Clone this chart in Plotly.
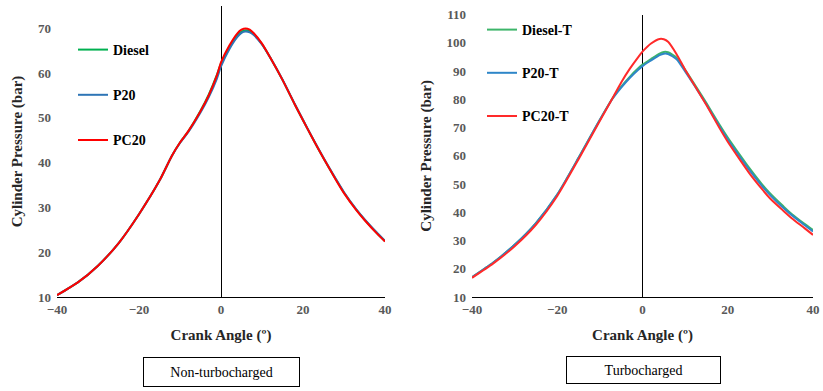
import plotly.graph_objects as go

# ---------------- data ----------------
angle_nt = [-40, -35, -30, -25, -20, -15, -12, -10, -8, -5, -3, -1, 0, 2, 4, 5, 6, 7, 8,
            10, 12, 15, 18, 20, 22, 25, 28, 30, 33, 35, 38, 40]
diesel_nt = [10.4, 13.2, 17.0, 22.0, 28.5, 36.0, 41.5, 44.5, 47.0, 51.6, 55.2, 59.6, 62.2, 65.8, 68.5,
             69.3, 69.6, 69.4, 68.7, 66.5, 63.5, 58.5, 53.0, 49.5, 46.0, 41.0, 36.3, 33.3, 29.5, 27.3, 24.3, 22.5]
p20_nt = [10.4, 13.2, 17.0, 22.0, 28.5, 36.0, 41.5, 44.4, 46.8, 51.2, 54.6, 58.8, 61.5, 65.3, 68.1,
          69.0, 69.3, 69.1, 68.5, 66.4, 63.5, 58.6, 53.1, 49.6, 46.1, 41.1, 36.4, 33.4, 29.6, 27.4, 24.4, 22.5]
pc20_nt = [10.4, 13.2, 17.0, 22.0, 28.5, 36.0, 41.5, 44.5, 47.0, 51.5, 55.0, 59.5, 62.4, 66.1, 68.9,
           69.7, 70.0, 69.7, 68.9, 66.6, 63.5, 58.5, 53.0, 49.5, 46.0, 41.0, 36.2, 33.2, 29.4, 27.2, 24.2, 22.4]

angle_t = [-40, -35, -30, -25, -20, -15, -10, -7, -5, -3, -1, 0, 2, 4, 5, 6, 8,
           10, 13, 15, 18, 20, 23, 25, 28, 30, 33, 35, 38, 40]
diesel_t = [17.0, 22.2, 28.5, 36.2, 46.3, 59.3, 72.8, 80.5, 84.5, 88.0, 91.0, 92.3, 94.3, 96.2, 96.8,
            96.7, 94.8, 90.5, 83.5, 78.7, 71.2, 66.5, 60.0, 55.8, 50.0, 46.6, 42.2, 39.4, 35.9, 33.7]
p20_t = [17.0, 22.2, 28.5, 36.2, 46.3, 59.3, 72.8, 80.3, 84.2, 87.6, 90.5, 91.8, 93.8, 95.7, 96.2,
         96.1, 94.2, 89.9, 83.0, 78.2, 70.6, 65.8, 59.3, 55.1, 49.4, 46.0, 41.6, 39.0, 35.5, 33.2]
pc20_t = [16.8, 21.9, 28.0, 35.6, 45.8, 58.8, 72.4, 80.5, 86.0, 90.8, 95.0, 96.9, 99.8, 101.4, 101.3,
          100.4, 96.0, 90.5, 83.0, 78.0, 70.0, 65.0, 58.3, 54.0, 48.3, 44.8, 40.6, 37.9, 34.4, 32.0]

names_nt = ["Diesel", "P20", "PC20"]
names_t = ["Diesel-T", "P20-T", "PC20-T"]
xticks = [-40, -20, 0, 20, 40]
yticks_nt = [10, 20, 30, 40, 50, 60, 70]
yticks_t = [10, 20, 30, 40, 50, 60, 70, 80, 90, 100, 110]
panel_labels = ["Non-turbocharged", "Turbocharged"]

# ---------------- style ----------------
SERIF = "Liberation Serif"
cols_nt = ["#00B050", "#2E75B6", "#FF0000"]
cols_t = ["#3DB56A", "#2E86C8", "#FF2A2A"]

fig = go.Figure()

for i, (nm, ys) in enumerate(zip(names_nt, [diesel_nt, p20_nt, pc20_nt])):
    fig.add_trace(go.Scatter(x=angle_nt, y=ys, name=nm, mode="lines",
                             line=dict(color=cols_nt[i], width=2, shape="spline", smoothing=0.6),
                             xaxis="x", yaxis="y", legend="legend", legendgroup="a" + str(i)))
for i, (nm, ys) in enumerate(zip(names_t, [diesel_t, p20_t, pc20_t])):
    fig.add_trace(go.Scatter(x=angle_t, y=ys, name=nm, mode="lines",
                             line=dict(color=cols_t[i], width=2, shape="spline", smoothing=0.6),
                             xaxis="x2", yaxis="y2", legend="legend2", legendgroup="b" + str(i)))

W, H = 823, 391
def px(x):
    return x / W
def py(y):
    return 1 - y / H

tickfont = dict(family=SERIF, size=13, color="#595959", weight="bold")
titlefont = dict(family=SERIF, size=15, color="#262626", weight="bold")

common_x = dict(range=[-40, 40], tickvals=xticks, showgrid=False, zeroline=True,
                zerolinecolor="#000000", zerolinewidth=1.3, showline=True,
                linecolor="#000000", linewidth=1.3, ticks="", tickfont=tickfont,
                title=dict(text="Crank Angle (º)", font=titlefont, standoff=13),
                automargin=False)
common_y = dict(showgrid=False, zeroline=False, showline=False, ticks="",
                tickfont=tickfont, automargin=False, ticklabelstandoff=5,
                title=dict(text="Cylinder Pressure (bar)", font=titlefont, standoff=11))

fig.update_layout(
    width=W, height=H,
    margin=dict(l=0, r=0, t=0, b=0),
    paper_bgcolor="white", plot_bgcolor="white",
    xaxis=dict(domain=[px(57), px(385)], anchor="y", **common_x),
    yaxis=dict(domain=[py(297), py(6)], anchor="x", range=[10, 75], tickvals=yticks_nt, **common_y),
    xaxis2=dict(domain=[px(472), px(813)], anchor="y2", **common_x),
    yaxis2=dict(domain=[py(297), py(14.7)], anchor="x2", range=[10, 110], tickvals=yticks_t, **common_y),
    legend=dict(x=px(73), y=py(34), xanchor="left", yanchor="top",
                font=dict(family=SERIF, size=14, color="#000000", weight="bold"),
                bgcolor="rgba(0,0,0,0)", tracegroupgap=24, itemwidth=30),
    legend2=dict(x=px(482), y=py(14), xanchor="left", yanchor="top",
                 font=dict(family=SERIF, size=14, color="#000000", weight="bold"),
                 bgcolor="rgba(0,0,0,0)", tracegroupgap=22, itemwidth=30),
    showlegend=True,
)

fig.add_annotation(text=panel_labels[0], xref="paper", yref="paper",
                   x=px((143 + 300) / 2), y=py(372), xanchor="center", yanchor="middle",
                   showarrow=False,
                   width=153, height=26, borderpad=1, bordercolor="#000000", borderwidth=1,
                   font=dict(family=SERIF, size=14, color="#000000"))
fig.add_annotation(text=panel_labels[1], xref="paper", yref="paper",
                   x=px((566 + 721) / 2), y=py(370), xanchor="center", yanchor="middle",
                   showarrow=False,
                   width=151, height=24, borderpad=1, bordercolor="#000000", borderwidth=1,
                   font=dict(family=SERIF, size=14, color="#000000"))

fig.write_html("out.html")
